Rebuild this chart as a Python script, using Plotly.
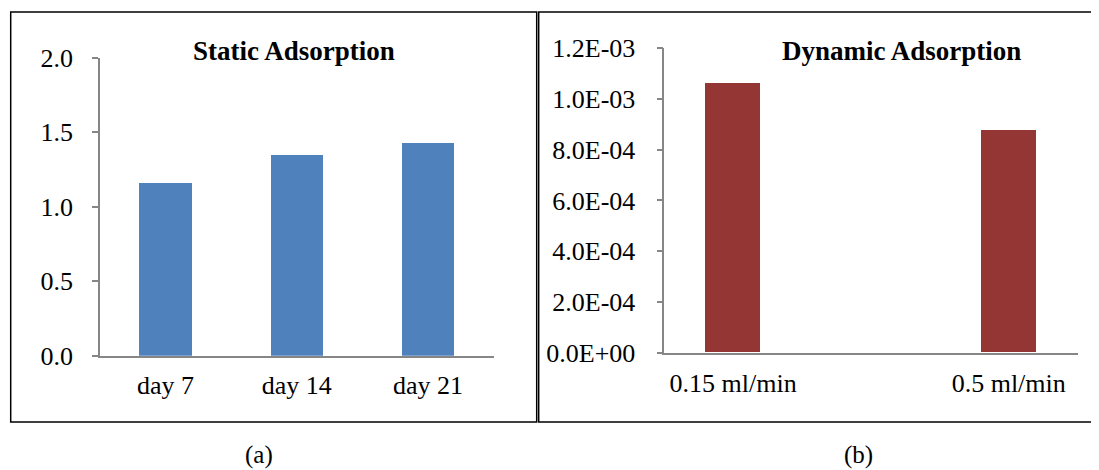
import plotly.graph_objects as go

# the page body has an 8px margin, so the figure is drawn 8px in and
# sized to fill the rest of the 1099x470 window
OFF = 8
W, H = 1099 - OFF, 470 - OFF

# ── data ──────────────────────────────────────────────
static_days = ["day 7", "day 14", "day 21"]
static_values = [1.16, 1.35, 1.43]
static_ticks = [0.0, 0.5, 1.0, 1.5, 2.0]
static_ticktext = ["0.0", "0.5", "1.0", "1.5", "2.0"]

dynamic_rates = ["0.15 ml/min", "0.5 ml/min"]
dynamic_values = [1.063e-3, 8.77e-4]
dynamic_ticks = [0.0, 2e-4, 4e-4, 6e-4, 8e-4, 1e-3, 1.2e-3]
dynamic_ticktext = ["0.0E+00", "2.0E-04", "4.0E-04", "6.0E-04",
                    "8.0E-04", "1.0E-03", "1.2E-03"]

FONT = "Liberation Serif, Times New Roman, serif"
AXIS_GREY = "#868686"


def px_x(x):
    # window pixel -> paper fraction
    return (x - OFF) / W


def px_y(y):
    return 1 - (y - OFF) / H


fig = go.Figure()

fig.add_trace(go.Bar(
    x=static_days, y=static_values, width=0.4,
    marker={"color": "#4F81BD", "line": {"width": 0}},
    xaxis="x", yaxis="y", showlegend=False,
))
fig.add_trace(go.Bar(
    x=dynamic_rates, y=dynamic_values, width=0.2,
    marker={"color": "#943634", "line": {"width": 0}},
    xaxis="x2", yaxis="y2", showlegend=False,
))

axis_common = dict(
    showgrid=False, zeroline=False, showline=True, automargin=False,
    linecolor=AXIS_GREY, linewidth=1.5,
    tickfont={"family": FONT, "size": 26, "color": "black"},
)

fig.update_layout(
    width=W, height=H,
    margin={"l": 0, "r": 0, "t": 0, "b": 0, "pad": 0},
    paper_bgcolor="white", plot_bgcolor="white",
    font={"family": FONT, "color": "black"},
    bargap=0,
    xaxis=dict(axis_common, domain=[px_x(100), px_x(493.5)],
               type="category", range=[-0.5, 2.5], ticks="",
               ticklabelstandoff=5, anchor="y"),
    yaxis=dict(axis_common, domain=[px_y(355.7), px_y(57.5)],
               range=[0, 2], tickvals=static_ticks, ticktext=static_ticktext,
               ticks="outside", ticklen=6, tickcolor=AXIS_GREY, tickwidth=1.5,
               ticklabelstandoff=14, anchor="x"),
    xaxis2=dict(axis_common, domain=[px_x(664.3), px_x(1077.6)],
                type="category", range=[-0.25, 1.25], ticks="",
                ticklabelstandoff=6, anchor="y2"),
    yaxis2=dict(axis_common, domain=[px_y(352.6), px_y(48.3)],
                range=[0, 1.2e-3], tickvals=dynamic_ticks, ticktext=dynamic_ticktext,
                ticks="outside", ticklen=6, tickcolor=AXIS_GREY, tickwidth=1.5,
                ticklabelstandoff=16, anchor="x2"),
)

# panel frames
fig.add_shape(type="rect", xref="paper", yref="paper",
              x0=px_x(10.7), x1=px_x(536.7), y0=px_y(422), y1=px_y(12),
              line={"color": "black", "width": 1.5})
fig.add_shape(type="rect", xref="paper", yref="paper",
              x0=px_x(538.7), x1=px_x(1102), y0=px_y(422), y1=px_y(12),
              line={"color": "black", "width": 1.5})

# titles and captions
fig.add_annotation(text="<b>Static Adsorption</b>", xref="paper", yref="paper",
                   x=px_x(293.5), y=px_y(51), showarrow=False,
                   xanchor="center", yanchor="middle",
                   font={"family": FONT, "size": 27})
fig.add_annotation(text="<b>Dynamic Adsorption</b>", xref="paper", yref="paper",
                   x=px_x(901.5), y=px_y(51), showarrow=False,
                   xanchor="center", yanchor="middle",
                   font={"family": FONT, "size": 27})
fig.add_annotation(text="(a)", xref="paper", yref="paper",
                   x=px_x(259), y=px_y(455), showarrow=False,
                   xanchor="center", yanchor="middle", borderpad=0,
                   font={"family": FONT, "size": 25})
fig.add_annotation(text="(b)", xref="paper", yref="paper",
                   x=px_x(858.5), y=px_y(455), showarrow=False,
                   xanchor="center", yanchor="middle", borderpad=0,
                   font={"family": FONT, "size": 25})

fig.write_html("out.html")
